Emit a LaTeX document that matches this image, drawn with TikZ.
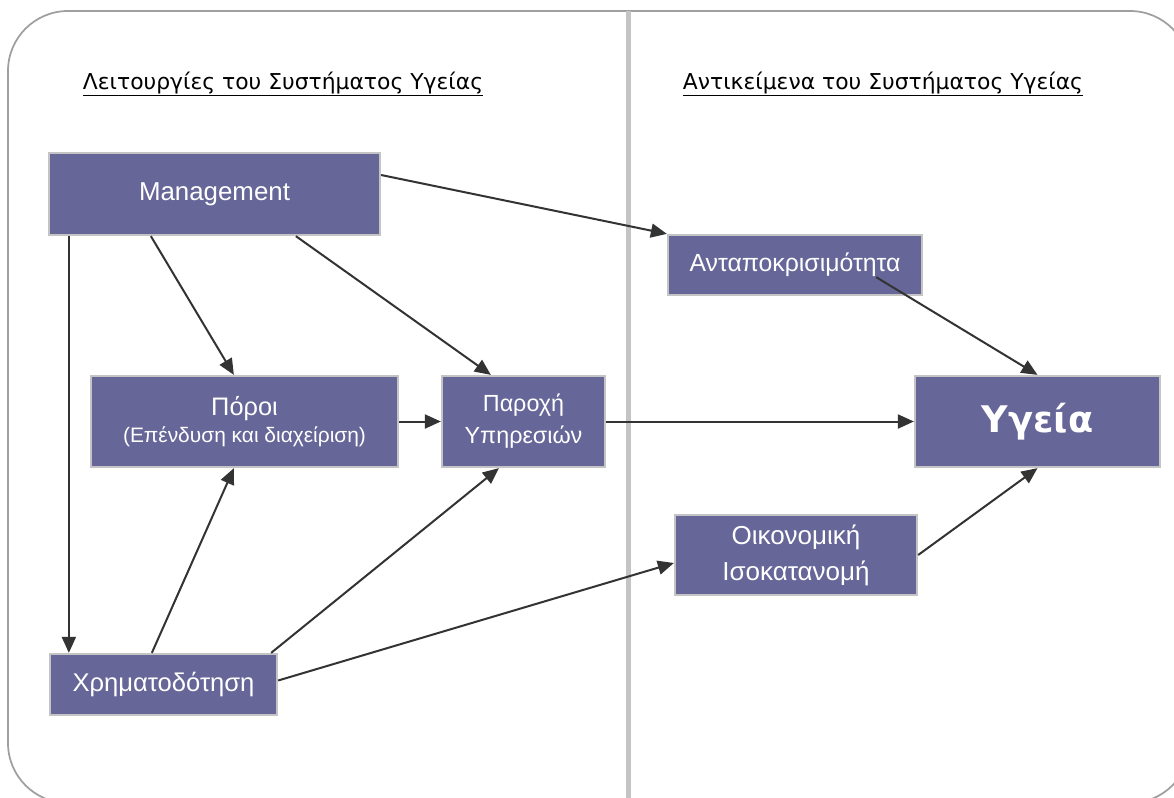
\documentclass[tikz,border=0pt]{standalone}
\usepackage{fontspec}
\setmainfont{Liberation Sans}
\newfontfamily\titrefont{DejaVu Sans}
\usepackage{xcolor}
\usepackage{tikz}
\usetikzlibrary{arrows.meta}
\definecolor{violetbloc}{HTML}{666699}
\definecolor{bordbloc}{HTML}{C4C4C4}
\definecolor{fleche}{HTML}{333333}
\tikzset{
    bloc/.style = {draw=bordbloc, line width=1.7pt, fill=violetbloc, text=white,
                   align=center, inner sep=0pt},
    titre/.style = {font=\titrefont\fontsize{16.4}{19}\selectfont},
    lien/.style = {-{Triangle[length=12pt,width=10.5pt]}, draw=fleche, line width=1.5pt},
}

\begin{document}
\begin{tikzpicture}[x=0.75pt, y=-0.75pt]
                \useasboundingbox (0,0) rectangle (1174,797);
                \clip (0,0) rectangle (1174,797);
                \fill[white] (0,0) rectangle (1174,797);
                \draw[gray!75, line width=1.3pt, rounded corners=45pt] (8,11) rectangle (1190,803);
                \fill[bordbloc] (625.5,11) rectangle (630.5,803);
                \node (t1) [titre] at (283,84) {\underline{Λειτουργίες του Συστήματος Υγείας}};
                \node (t2) [titre] at (883,84) {\underline{Αντικείμενα του Συστήματος Υγείας}};
                \node (mgmt) [bloc, minimum width=248.25pt, minimum height=61.5pt,
                    font=\fontsize{19.4}{22}\selectfont] at (214.5,194) {Management};
                \node (anta) [bloc, minimum width=190.5pt, minimum height=45pt,
                    font=\fontsize{18.6}{21}\selectfont] at (795,265) {Ανταποκρισιμότητα};
                \node (poroi) [bloc, minimum width=230.25pt, minimum height=68.25pt] at (244.5,421.5)
                    {{\fontsize{19}{22}\selectfont Πόροι}\\[3pt]{\fontsize{15.7}{18}\selectfont (Επένδυση και διαχείριση)}};
                \node (paroxi) [bloc, minimum width=122.25pt, minimum height=68.25pt,
                    font=\fontsize{17.5}{24}\selectfont] at (523.5,421.5) {Παροχή\\Υπηρεσιών};
                \node (ygeia) [bloc, minimum width=183.75pt, minimum height=68.25pt,
                    font=\titrefont\bfseries\fontsize{27.5}{31}\selectfont] at (1037.5,421.5) {Υγεία};
                \node (oiko) [bloc, minimum width=181.5pt, minimum height=60pt,
                    font=\fontsize{19.5}{27}\selectfont] at (796,555) {Οικονομική\\Ισοκατανομή};
                \node (xrima) [bloc, minimum width=170.25pt, minimum height=45.75pt,
                    font=\fontsize{19.2}{22}\selectfont] at (163.5,684.5) {Χρηματοδότηση};
                \path[every edge/.style={lien}]
                ([shift={(0,-19)}]mgmt.east) edge (anta.north west)
                ([shift={(21,0)}]mgmt.south west) edge ([shift={(20,0)}]xrima.north west)
                ([shift={(103,0)}]mgmt.south west) edge ([shift={(144,0)}]poroi.north west)
                ([shift={(248,0)}]mgmt.south west) edge ([shift={(50,0)}]paroxi.north west)
                (poroi.east) edge (paroxi.west)
                (paroxi.east) edge (ygeia.west)
                ([shift={(103,0)}]xrima.north west) edge ([shift={(144,0)}]poroi.south west)
                ([shift={(-7,0)}]xrima.north east) edge ([shift={(58,0)}]paroxi.south west)
                ([shift={(0,-4)}]xrima.east) edge ([shift={(0,8)}]oiko.west)
                ([shift={(-47,-19)}]anta.south east) edge (ygeia.north)
                (oiko.east) edge (ygeia.south);
            \end{tikzpicture}
\end{document}
